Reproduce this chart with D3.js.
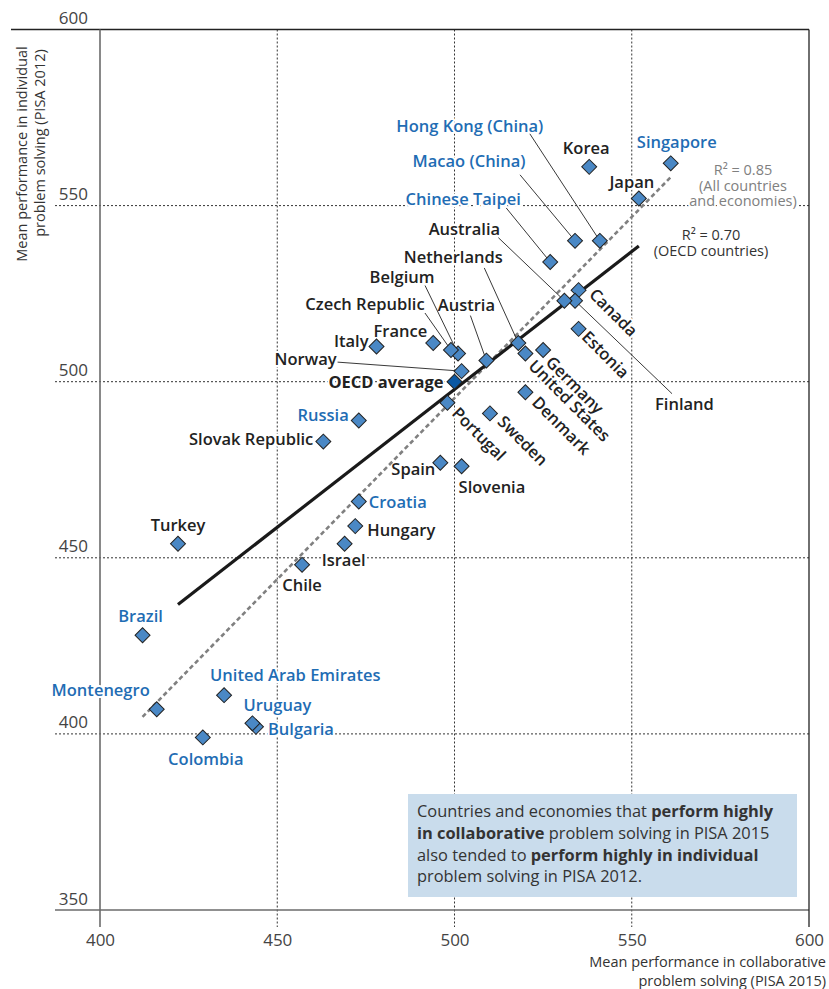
<!DOCTYPE html>
<html><head><meta charset="utf-8">
<script src="https://cdn.jsdelivr.net/npm/d3@7/dist/d3.min.js"></script>
<style>
body{margin:0;background:#fff}
svg{display:block}
text{font-family:"Open Sans",Lato,sans-serif}
</style></head><body>
<svg id="chart" width="829" height="989"></svg>
<script>
// Countries and economies, PISA 2015 collaborative vs PISA 2012 individual problem solving
const categories = ["Singapore","Japan","Hong Kong (China)","Korea","Canada","Estonia","Finland","Macao (China)","Australia","Chinese Taipei","Germany","United States","Denmark","Netherlands","Sweden","Austria","Norway","Slovenia","Belgium","Czech Republic","OECD average","Portugal","Spain","France","Italy","Russia","Croatia","Hungary","Israel","Slovak Republic","Chile","Bulgaria","Uruguay","United Arab Emirates","Colombia","Turkey","Montenegro","Brazil"];
const collab2015 = [561,552,541,538,535,535,534,534,531,527,525,520,520,518,510,509,502,502,501,499,500,498,496,494,478,473,473,472,469,463,457,444,443,435,429,422,416,412];
const indiv2012 = [562,552,540,561,526,515,523,540,523,534,509,508,497,511,491,506,503,476,508,509,500,494,477,511,510,489,466,459,454,483,448,402,403,411,399,454,407,428];
const partners = ["Singapore","Hong Kong (China)","Macao (China)","Chinese Taipei","Russia","Croatia","Bulgaria","Uruguay","United Arab Emirates","Colombia","Montenegro","Brazil"];
const averageName = "OECD average";
const xTicks = [400,450,500,550,600];
const yTicks = [350,400,450,500,550,600];
const r2All = "0.85", r2Oecd = "0.70";

// label placement (pixel offsets from each marker)
const labelLayout = {
  "Singapore":{dx:6,dy:-15,a:"middle"},
  "Japan":{dx:-7,dy:-11,a:"middle"},
  "Korea":{dx:-3,dy:-13,a:"middle"},
  "Hong Kong (China)":{dx:-130,dy:-109,a:"middle",lead:[-70,-107]},
  "Macao (China)":{dx:-106,dy:-74,a:"middle",lead:[-55,-66]},
  "Chinese Taipei":{dx:-87,dy:-57,a:"middle",lead:[-44,-54]},
  "Australia":{dx:-100,dy:-66,a:"middle",lead:[-66,-63]},
  "Netherlands":{dx:-65,dy:-80,a:"middle",lead:[-34,-75]},
  "Belgium":{dx:-56,dy:-71,a:"middle",lead:[-33,-68]},
  "Czech Republic":{dx:-86,dy:-40,a:"middle",lead:[-26,-37]},
  "Austria":{dx:-20,dy:-50,a:"middle",lead:[-16,-45]},
  "France":{dx:-6,dy:-6,a:"end"},
  "Italy":{dx:-8,dy:1,a:"end"},
  "Norway":{dx:-125,dy:-6,a:"end",lead:[-124,-9]},
  "OECD average":{dx:-11,dy:6,a:"end"},
  "Russia":{dx:-10,dy:1,a:"end"},
  "Slovak Republic":{dx:-10,dy:3,a:"end"},
  "Spain":{dx:-5,dy:12,a:"end"},
  "Slovenia":{dx:-3,dy:27,a:"start"},
  "Croatia":{dx:10,dy:7,a:"start"},
  "Hungary":{dx:12,dy:10,a:"start"},
  "Israel":{dx:-1,dy:22,a:"middle"},
  "Chile":{dx:0,dy:26,a:"middle"},
  "Turkey":{dx:0,dy:-13,a:"middle"},
  "Brazil":{dx:-2,dy:-13,a:"middle"},
  "Montenegro":{dx:-7,dy:-13,a:"end"},
  "United Arab Emirates":{dx:-14,dy:-14,a:"start"},
  "Uruguay":{dx:-9,dy:-12,a:"start"},
  "Bulgaria":{dx:12,dy:8,a:"start"},
  "Colombia":{dx:3,dy:28,a:"middle"},
  "Finland":{dx:80,dy:109,a:"start",lead:[97,93]},
  "Canada":{rot:45,lx:10.6,ly:-3},
  "Estonia":{rot:45,lx:8,ly:5},
  "Germany":{rot:45,lx:10.6,ly:8.2},
  "United States":{rot:45,lx:11,ly:8},
  "Denmark":{rot:45,lx:12,ly:4},
  "Sweden":{rot:45,lx:11.3,ly:2},
  "Portugal":{rot:45,lx:10.6,ly:5.5}
};

const svg = d3.select("#chart");
const x = d3.scaleLinear().domain([400,600]).range([100,809]);
const y = d3.scaleLinear().domain([350,600]).range([910,29.5]);
const gridLeft = 55, tickBottom = 927;

const rows = categories.map((c,i)=>({name:c, cx:collab2015[i], iy:indiv2012[i],
  partner: partners.includes(c), avg: c===averageName}));

// gridlines
const grid = svg.append("g");
yTicks.filter(v=>v>350 && v<600).forEach(v=>{
  grid.append("line").attr("x1",gridLeft).attr("x2",x(600)).attr("y1",y(v)).attr("y2",y(v))
    .attr("stroke","#333").attr("stroke-width",1).attr("stroke-dasharray","2,2");
});
xTicks.filter(v=>v>400 && v<600).forEach(v=>{
  grid.append("line").attr("x1",x(v)).attr("x2",x(v)).attr("y1",y(600)).attr("y2",tickBottom)
    .attr("stroke","#333").attr("stroke-width",1).attr("stroke-dasharray","2,2");
});
// frame
grid.append("line").attr("x1",11).attr("x2",x(600)).attr("y1",y(600)).attr("y2",y(600)).attr("stroke","#222").attr("stroke-width",1.3);
grid.append("line").attr("x1",gridLeft).attr("x2",x(600)).attr("y1",y(350)).attr("y2",y(350)).attr("stroke","#6b6b6b").attr("stroke-width",1.6);
grid.append("line").attr("x1",x(400)).attr("x2",x(400)).attr("y1",y(600)).attr("y2",tickBottom).attr("stroke","#6b6b6b").attr("stroke-width",1.6);
grid.append("line").attr("x1",x(600)).attr("x2",x(600)).attr("y1",y(600)).attr("y2",tickBottom).attr("stroke","#222").attr("stroke-width",1.3);

// axes (tick labels)
const yAxis = svg.append("g").attr("transform",`translate(${x(400)},0)`)
  .call(d3.axisLeft(y).tickValues(yTicks).tickSize(0).tickPadding(12));
yAxis.select(".domain").remove();
yAxis.selectAll("text").attr("dy",0).attr("y",-6).attr("fill","#444")
  .style("font-size","17px").style("font-family","'Open Sans', sans-serif");
const xAxis = svg.append("g").attr("transform",`translate(0,${y(350)})`)
  .call(d3.axisBottom(x).tickValues(xTicks).tickSize(0));
xAxis.select(".domain").remove();
xAxis.selectAll("text").attr("y",24).attr("dy","0.71em").attr("fill","#444")
  .style("font-size","17px").style("font-family","'Open Sans', sans-serif");

// axis titles
const yt = svg.append("g").attr("fill","#333").style("font-size","14.5px");
yt.append("text").attr("transform",`translate(27,154) rotate(-90)`).attr("text-anchor","middle").text("Mean performance in individual");
yt.append("text").attr("transform",`translate(45,143) rotate(-90)`).attr("text-anchor","middle").text("problem solving (PISA 2012)");
const xt = svg.append("g").attr("fill","#333").style("font-size","14.5px").attr("text-anchor","end");
xt.append("text").attr("x",826).attr("y",967).text("Mean performance in collaborative");
xt.append("text").attr("x",826).attr("y",986).text("problem solving (PISA 2015)");

// annotation box
const box = svg.append("g");
box.append("rect").attr("x",408).attr("y",794).attr("width",389).attr("height",103).attr("fill","#c9dcec");
const boxLines = [
  [["Countries and economies that ",0],["perform highly",1]],
  [["in collaborative",1],[" problem solving in PISA 2015",0]],
  [["also tended to ",0],["perform highly in individual",1]],
  [["problem solving in PISA 2012.",0]]
];
boxLines.forEach((ln,i)=>{
  const t = box.append("text").attr("x",417).attr("y",817+i*21.8).attr("fill","#333").style("font-size","16.4px");
  ln.forEach(([s,b])=>t.append("tspan").attr("font-weight",b?700:400).text(s));
});

// labels
const lab = svg.append("g").style("font-size","16.5px").attr("font-weight",600);
rows.forEach(d=>{
  const L = labelLayout[d.name]; if(!L) return;
  const px = x(d.cx), py = y(d.iy);
  const col = d.partner ? "#1f6db4" : "#222";
  let t;
  if(L.rot){
    t = lab.append("text").attr("transform",`translate(${px},${py}) rotate(${L.rot})`)
      .attr("x",L.lx).attr("y",L.ly);
  } else {
    t = lab.append("text").attr("x",px+L.dx).attr("y",py+L.dy).attr("text-anchor",L.a);
  }
  if(d.avg) t.attr("font-weight",700);
  t.attr("fill",col).attr("stroke","#fff").attr("stroke-width",4).attr("paint-order","stroke")
   .attr("stroke-linejoin","round").text(d.name);
});

// regression lines
function fit(pts){
  const mx=d3.mean(pts,p=>p.cx), my=d3.mean(pts,p=>p.iy);
  const b=d3.sum(pts,p=>(p.cx-mx)*(p.iy-my))/d3.sum(pts,p=>(p.cx-mx)**2);
  const a=my-b*mx; const [x0,x1]=d3.extent(pts,p=>p.cx);
  return [[x0,a+b*x0],[x1,a+b*x1]];
}
const countries = rows.filter(d=>!d.avg);
const line = d3.line().x(p=>x(p[0])).y(p=>y(p[1]));
svg.append("path").attr("d",line(fit(countries))).attr("fill","none")
  .attr("stroke","#808080").attr("stroke-width",2.6).attr("stroke-dasharray","4.5,3");
svg.append("path").attr("d",line(fit(countries.filter(d=>!d.partner)))).attr("fill","none")
  .attr("stroke","#1a1a1a").attr("stroke-width",3.2);

// R² notes, one text block per fit
function r2Note(cx, cy, col, val, extra){
  const t = svg.append("text").attr("x",cx).attr("y",cy).attr("fill",col)
    .style("font-size","14.5px").attr("text-anchor","middle");
  t.append("tspan").text("R\u00B2 = " + val);
  extra.forEach(s=>t.append("tspan").attr("x",cx).attr("dy",15.5)
    .attr("stroke","#fff").attr("stroke-width",4).attr("paint-order","stroke").text(s));
}
r2Note(743,175,"#808080",r2All,["(All countries","and economies)"]);
r2Note(711,240,"#333",r2Oecd,["(OECD countries)"]);

// leader lines
const leads = svg.append("g").attr("stroke","#222").attr("stroke-width",0.9);
rows.forEach(d=>{
  const L = labelLayout[d.name]; if(!L || !L.lead) return;
  const px = x(d.cx), py = y(d.iy);
  leads.append("line").attr("x1",px+L.lead[0]).attr("y1",py+L.lead[1]).attr("x2",px).attr("y2",py);
});

// markers
const sym = d3.symbol().type(d3.symbolSquare).size(112);
svg.append("g").selectAll("path").data(rows).join("path")
  .attr("d",sym)
  .attr("transform",d=>`translate(${x(d.cx)},${y(d.iy)}) rotate(45)`)
  .attr("fill",d=>d.avg ? "#0a58a4" : "#4a88c5")
  .attr("stroke","#222").attr("stroke-width",1);
</script></body></html>
